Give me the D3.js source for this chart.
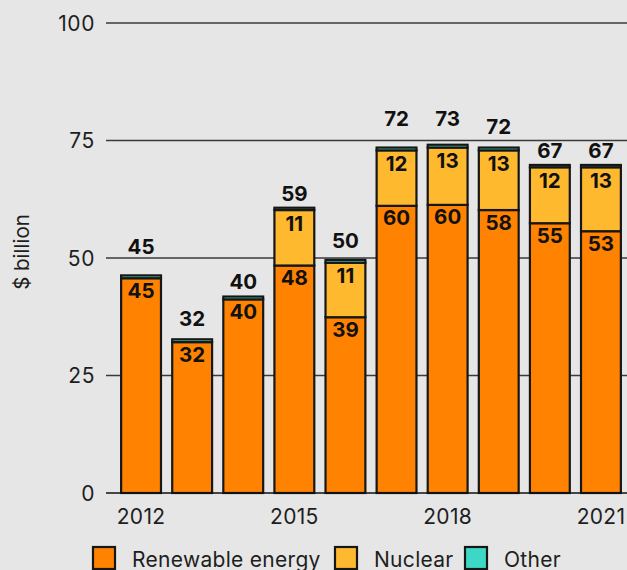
<!DOCTYPE html>
<html>
<head>
<meta charset="utf-8">
<script src="https://cdn.jsdelivr.net/npm/d3@7"></script>
<style>
  html, body { margin: 0; padding: 0; background: #e6e6e6; }
  svg { display: block; }
  text { font-family: Inter, "Noto Sans", sans-serif; }
</style>
</head>
<body>
<svg id="chart" width="627" height="570"></svg>
<script>
// ---- data ----
const years = ["2012","2013","2014","2015","2016","2017","2018","2019","2020","2021"];
const renewable = [45.7, 32.1, 41.2, 48.4, 37.4, 61.1, 61.3, 60.2, 57.4, 55.7];
const nuclear   = [0, 0, 0, 11.8, 11.6, 11.8, 12.2, 12.7, 11.9, 13.6];
const other     = [0.6, 0.6, 0.6, 0.5, 0.6, 0.6, 0.6, 0.6, 0.5, 0.5];
const totalLabels     = ["45","32","40","59","50","72","73","72","67","67"];
const renewableLabels = ["45","32","40","48","39","60","60","58","55","53"];
const nuclearLabels   = ["","","","11","11","12","13","13","12","13"];
const yTicks = [0, 25, 50, 75, 100];
const xTickLabels = ["2012","2015","2018","2021"];
const seriesNames = ["Renewable energy","Nuclear","Other"];

// ---- layout (pixels, not data) ----
const totalLabelGap = [20, 12, 6.5, 6, 10.5, 20.5, 17.5, 13, 5.5, 5.5];

const colors = { "Renewable energy": "#ff8300", "Nuclear": "#ffb92e", "Other": "#3dd8c5" };
const strokeC = "#161616";

const svg = d3.select("#chart");
const x = d3.scaleBand().domain(years).range([115.5, 626.5]).paddingInner(0.22).paddingOuter(0.11);
const y = d3.scaleLinear().domain([0, 100]).range([493, 23]);

// gridlines
svg.append("g").selectAll("line").data(yTicks.filter(d => d > 0)).join("line")
  .attr("x1", 106).attr("x2", 627)
  .attr("y1", d => y(d)).attr("y2", d => y(d))
  .attr("stroke", "#3a3a3a").attr("stroke-width", 1.3);

// y tick labels
svg.append("g").selectAll("text").data(yTicks).join("text")
  .attr("x", 95).attr("y", d => y(d)).attr("dy", "0.36em")
  .attr("text-anchor", "end").attr("font-size", 21).attr("letter-spacing", 0.6).attr("fill", "#1e1e1e")
  .text(d => d);

// y axis title
svg.append("text")
  .attr("transform", `translate(29,${252}) rotate(-90)`)
  .attr("text-anchor", "middle").attr("font-size", 20.5).attr("fill", "#1e1e1e")
  .text("$ billion");

// stacked data
const table = years.map((yr, i) => ({ year: yr, "Renewable energy": renewable[i], "Nuclear": nuclear[i], "Other": other[i] }));
const stack = d3.stack().keys(seriesNames)(table);

const bw = x.bandwidth();
svg.append("g").selectAll("g").data(stack).join("g")
  .attr("fill", d => colors[d.key])
  .selectAll("rect").data(d => d.filter(p => p[1] - p[0] > 0)).join("rect")
  .attr("x", d => x(d.data.year)).attr("width", bw)
  .attr("y", d => y(d[1])).attr("height", d => y(d[0]) - y(d[1]))
  .attr("stroke", strokeC).attr("stroke-width", 2.2);

// zero axis line
svg.append("line").attr("x1", 106).attr("x2", 627).attr("y1", y(0)).attr("y2", y(0))
  .attr("stroke", "#111").attr("stroke-width", 1.5);

// x tick labels
svg.append("g").selectAll("text").data(xTickLabels).join("text")
  .attr("x", d => x(d) + bw / 2).attr("y", 523.5)
  .attr("text-anchor", "middle").attr("font-size", 21).attr("letter-spacing", 0.3).attr("fill", "#1e1e1e")
  .text(d => d);

// segment labels
const lbl = svg.append("g").attr("font-weight", 700).attr("font-size", 20.5).attr("fill", "#111").attr("text-anchor", "middle");
lbl.selectAll("text.ren").data(years).join("text").attr("class", "ren")
  .attr("x", d => x(d) + bw / 2)
  .attr("y", (d, i) => y(renewable[i]) + 19.5)
  .text((d, i) => renewableLabels[i]);
lbl.selectAll("text.nuc").data(years.filter((d, i) => nuclear[i] > 0)).join("text").attr("class", "nuc")
  .attr("x", d => x(d) + bw / 2)
  .attr("y", d => { const i = years.indexOf(d); return y(renewable[i] + nuclear[i]) + 20.5; })
  .text(d => nuclearLabels[years.indexOf(d)]);
lbl.selectAll("text.tot").data(years).join("text").attr("class", "tot")
  .attr("x", d => x(d) + bw / 2)
  .attr("y", (d, i) => y(renewable[i] + nuclear[i] + other[i]) - 1 - totalLabelGap[i])
  .text((d, i) => totalLabels[i]);

// legend
const legendX = [93, 335, 465];
const lg = svg.append("g").selectAll("g").data(seriesNames).join("g")
  .attr("transform", (d, i) => `translate(${legendX[i]},547)`);
lg.append("rect").attr("width", 22).attr("height", 22)
  .attr("fill", d => colors[d]).attr("stroke", strokeC).attr("stroke-width", 2.2);
lg.append("text").attr("x", 39).attr("y", 19.5).attr("font-size", 21).attr("letter-spacing", 0.3).attr("fill", "#1e1e1e")
  .text(d => d);
</script>
</body>
</html>
